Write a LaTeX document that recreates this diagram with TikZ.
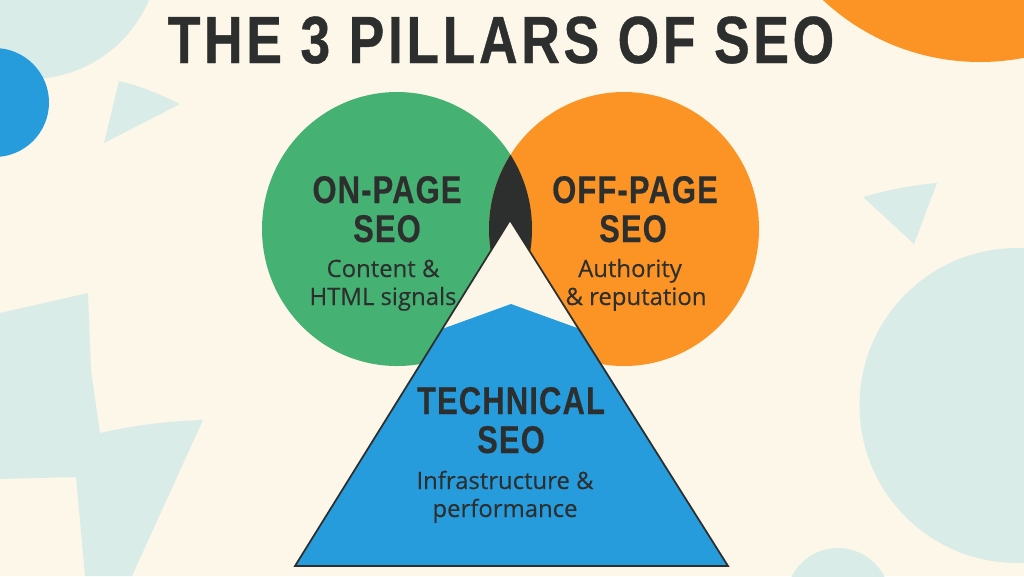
\documentclass[tikz,border=0pt]{standalone}
\usepackage{fontspec}
\usepackage{tikz}
\newfontfamily\headfont[FakeStretch=0.8,LetterSpace=3,BoldFeatures={FakeBold=0.4}]{Liberation Sans}
\newfontfamily\titlefont[FakeStretch=0.8,LetterSpace=5.5,BoldFeatures={FakeBold=0.6}]{Liberation Sans}
\newfontfamily\subfont[FakeBold=0.25]{Open Sans}
\definecolor{paper}{HTML}{FDF7E9}
\definecolor{pale}{HTML}{DAECE8}
\definecolor{leaf}{HTML}{45B273}
\definecolor{amber}{HTML}{FB9424}
\definecolor{sky}{HTML}{279CDD}
\definecolor{ink}{HTML}{2D2F2E}
\definecolor{inner}{HTML}{FBF6E8}
\begin{document}
\begin{tikzpicture}[x=0.02cm,y=-0.02cm,
  headtext/.style={anchor=base,inner sep=0pt,text=ink,font=\headfont\bfseries\fontsize{22}{24}\selectfont},
  subtext/.style={anchor=base,inner sep=0pt,text=ink,font=\subfont\fontsize{13.6}{15}\selectfont},
  titletext/.style={anchor=base,inner sep=0pt,text=ink,font=\titlefont\bfseries\fontsize{38}{40}\selectfont}]
\useasboundingbox (0,0) rectangle (1024,576);
\clip (0,0) rectangle (1024,576);
\fill[paper] (0,0) rectangle (1024,576);
% background shapes
\fill[pale] (30,-50) circle (129);
\fill[pale] (119,81) .. controls (140,86) and (160,94) .. (180,104) -- (104,143) -- cycle;
\fill[pale] (863,197) .. controls (888,190) and (912,185) .. (937,183) -- (914,244) -- cycle;
\fill[pale] (1017,405.5) circle (157.5);
\fill[pale] (838,600) circle (52);
\fill[pale] (0,313) -- (88,293) -- (91,370) -- (100,433) .. controls (135,425) and (170,421) .. (203,420)
  -- (132,576) -- (85,576) -- (76,477) -- (0,479) -- cycle;
\fill[sky] (-5.5,102.5) circle (54.5);
\fill[amber] (980,-168) circle (230);
% the two circles
\fill[leaf] (397,229) ellipse (135 and 137);
\fill[amber] (624,229) ellipse (135 and 137);
\begin{scope}
\clip (397,229) ellipse (135 and 137);
\fill[ink] (624,229) ellipse (135 and 137);
\end{scope}
% the triangle
\fill[inner] (510,220) -- (728,566) -- (295,566) -- cycle;
\fill[sky] (442,329) -- (511,304) -- (580,329) -- (728,566) -- (295,566) -- cycle;
\draw[ink,line width=1pt,line join=miter] (510,220) -- (728,566) -- (295,566) -- cycle;
% texts
\node[titletext] (title) at (501,63) {THE 3 PILLARS OF SEO};
\node[headtext] (onpage) at (387,203) {ON-PAGE};
\node[headtext] (onpageseo) at (387,242) {SEO};
\node[subtext] (content) at (383,277) {Content \&};
\node[subtext] (html) at (383,305) {HTML signals};
\node[headtext] (offpage) at (635,203) {OFF-PAGE};
\node[headtext] (offpageseo) at (633,242) {SEO};
\node[subtext] (authority) at (630,277) {Authority};
\node[subtext] (reputation) at (636,305) {\& reputation};
\node[headtext] (technical) at (511,414) {TECHNICAL};
\node[headtext] (technicalseo) at (511,453) {SEO};
\node[subtext] (infra) at (505,489) {Infrastructure \&};
\node[subtext] (perf) at (505,517) {performance};
\end{tikzpicture}
\end{document}
